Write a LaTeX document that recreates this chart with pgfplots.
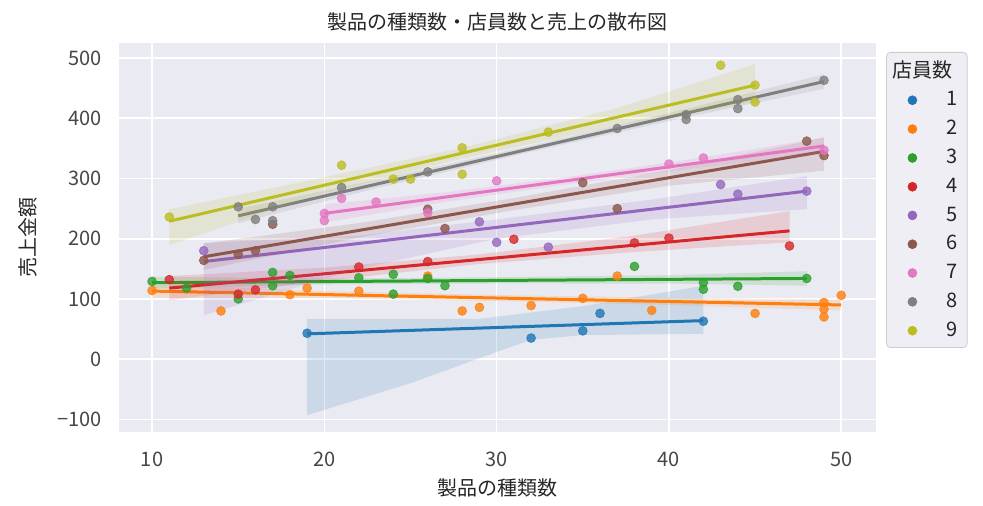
\documentclass[border=0pt]{standalone}
\usepackage{fontspec}
\setmainfont{Noto Sans CJK JP}
\usepackage{pgfplots}
\pgfplotsset{compat=1.18}
\definecolor{c1}{HTML}{1F77B4}
\definecolor{c2}{HTML}{FF7F0E}
\definecolor{c3}{HTML}{2CA02C}
\definecolor{c4}{HTML}{D62728}
\definecolor{c5}{HTML}{9467BD}
\definecolor{c6}{HTML}{8C564B}
\definecolor{c7}{HTML}{E377C2}
\definecolor{c8}{HTML}{7F7F7F}
\definecolor{c9}{HTML}{BCBD22}
\definecolor{bg}{HTML}{EAEAF2}
\definecolor{txt}{HTML}{262626}
\definecolor{legbg}{HTML}{EEEEF4}
\definecolor{legdraw}{HTML}{CCCCCC}
\pgfplotsset{
  pts/.style={only marks, mark=*, mark size=2.2pt, color=#1, opacity=0.8, mark options={draw=none, fill=#1}, forget plot},
  fit/.style={color=#1, line width=1.5pt, forget plot},
  band/.style={fill=#1, fill opacity=0.15, draw=none, forget plot},
}
\begin{document}
\fontsize{10}{12}\selectfont
\begin{tikzpicture}
\path[use as bounding box, fill=white] (-59.5pt,-36.5pt) rectangle (432pt,216pt);
\begin{axis}[
  scale only axis, width=378.5pt, height=194.5pt,
  xmin=8.08, xmax=52.02, ymin=-121, ymax=525,
  axis background/.style={fill=bg},
  axis line style={draw=none},
  grid=major, major grid style={white, line width=0.8pt},
  tick style={draw=none},
  xtick={10,20,30,40,50},
  ytick={-100,0,100,200,300,400,500},
  yticklabels={−100,0,100,200,300,400,500},
  /pgf/number format/assume math mode=true,
  ticklabel style={text=txt!85},
  xticklabel style={yshift=-6.5pt},
  yticklabel style={xshift=-5pt},
  title={製品の種類数・店員数と売上の散布図},
  title style={at={(axis description cs:0.5,1.023)}, anchor=center, text=txt},
  xlabel={製品の種類数},
  xlabel style={at={(axis description cs:0.5,-0.144)}, anchor=center, text=txt},
  ylabel={売上金額},
  ylabel style={at={(axis description cs:-0.1202,0.5)}, anchor=center, text=txt},
  legend image code/.code={\path[draw=none,fill=none] (-10pt,0pt) (2.2pt,0pt); \fill[#1] (0pt,0pt) circle (2.2pt);},
  legend cell align=left,
  legend style={at={(axis description cs:1,1)}, anchor=north west, xshift=5pt, yshift=-4.5pt,
    fill=legbg, draw=legdraw, rounded corners=2pt, text=txt, row sep=1.7pt,
    /tikz/every even column/.append style={column sep=4pt}},
]
% ---- series 1
\addplot[pts=c1] coordinates {(19,43) (32,35) (35,47) (36,76) (42,63)};
\addplot[fit=c1] coordinates {(19,42) (42,64)};
\addplot[band=c1] coordinates {(19,67) (29,67) (35,88) (42,122) (42,42) (35,40) (32,32) (30,12) (25,-40) (19,-93)};
% ---- series 2
\addplot[pts=c2] coordinates {(10,114) (14,80) (18,107) (19,118) (22,113) (26,138) (28,80) (29,86) (32,89) (35,101) (37,138) (39,81) (45,76) (49,94) (49,83) (49,70) (50,106)};
\addplot[fit=c2] coordinates {(10,113) (50,90)};
\addplot[band=c2] coordinates {(10,124) (20,113) (30,106.5) (40,102) (50,99) (50,81) (40,90) (30,96.5) (20,101.5) (10,102)};
% ---- series 3
\addplot[pts=c3] coordinates {(10,129) (12,118) (15,100) (17,144) (17,122) (18,139) (22,135) (24,141) (24,108) (26,134) (27,122) (38,154) (42,127) (42,116) (44,121) (48,134)};
\addplot[fit=c3] coordinates {(10,127) (48,134)};
\addplot[band=c3] coordinates {(10,137) (20,134) (30,136) (40,139.5) (48,146) (48,122) (40,125.5) (30,125.7) (20,124) (10,117)};
% ---- series 4
\addplot[pts=c4] coordinates {(11,132) (15,108) (16,115) (22,153) (26,162) (31,199) (38,193) (40,201) (47,188)};
\addplot[fit=c4] coordinates {(11,118) (47,213)};
\addplot[band=c4] coordinates {(11,138) (20,152) (29,174) (38,205) (47,246) (47,194) (38,178) (29,158) (20,130) (11,98)};
% ---- series 5
\addplot[pts=c5] coordinates {(13,180) (29,228) (30,194) (33,186) (43,290) (44,274) (48,279)};
\addplot[fit=c5] coordinates {(13,162) (48,279)};
\addplot[band=c5] coordinates {(13,193) (22,205) (30,232) (39,265) (48,304) (48,249) (39,232) (30,200) (22,150) (13,73)};
% ---- series 6
\addplot[pts=c6] coordinates {(13,164) (15,174) (16,180) (17,224) (26,249) (27,217) (35,293) (37,250) (48,362) (49,338)};
\addplot[fit=c6] coordinates {(13,170) (49,345)};
\addplot[band=c6] coordinates {(13,192) (22,226) (31,267.5) (40,314) (49,368) (49,313) (40,288) (31,247.5) (22,202) (13,148)};
% ---- series 7
\addplot[pts=c7] coordinates {(20,242) (20,230) (21,267) (23,261) (26,243) (30,296) (40,324) (42,334) (49,347)};
\addplot[fit=c7] coordinates {(20,242) (49,354)};
\addplot[band=c7] coordinates {(20,257) (27,277) (34,302) (42,335) (49,368) (49,340) (42,319) (34,290) (27,261) (20,227)};
% ---- series 8
\addplot[pts=c8] coordinates {(15,253) (16,232) (17,253) (17,230) (21,285) (26,311) (37,383) (41,406) (41,398) (44,431) (44,416) (49,463)};
\addplot[fit=c8] coordinates {(15,238) (49,461)};
\addplot[band=c8] coordinates {(15,250) (23,297.5) (32,354.5) (41,415.5) (49,473) (49,449) (41,401.5) (32,344.5) (23,283.5) (15,226)};
% ---- series 9
\addplot[pts=c9] coordinates {(11,236) (21,322) (24,299) (25,299) (28,351) (28,307) (33,377) (43,488) (45,455) (45,427)};
\addplot[fit=c9] coordinates {(11,229) (45,455)};
\addplot[band=c9] coordinates {(11,249) (19,296) (28,351) (37,417) (45,490) (45,427) (37,388) (28,333) (19,268) (11,189)};
% ---- legend
\addlegendimage{empty legend}
\addlegendentry{\hspace*{-14.5pt}店員数}
\addlegendimage{c1}\addlegendentry{\makebox[18pt][r]{1}}
\addlegendimage{c2}\addlegendentry{\makebox[18pt][r]{2}}
\addlegendimage{c3}\addlegendentry{\makebox[18pt][r]{3}}
\addlegendimage{c4}\addlegendentry{\makebox[18pt][r]{4}}
\addlegendimage{c5}\addlegendentry{\makebox[18pt][r]{5}}
\addlegendimage{c6}\addlegendentry{\makebox[18pt][r]{6}}
\addlegendimage{c7}\addlegendentry{\makebox[18pt][r]{7}}
\addlegendimage{c8}\addlegendentry{\makebox[18pt][r]{8}}
\addlegendimage{c9}\addlegendentry{\makebox[18pt][r]{9}}
\end{axis}
\end{tikzpicture}
\end{document}
